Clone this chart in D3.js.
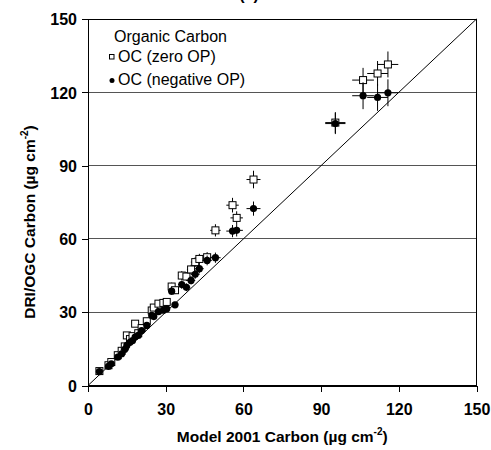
<!DOCTYPE html>
<html>
<head>
<meta charset="utf-8">
<script src="https://cdn.jsdelivr.net/npm/d3@7"></script>
<style>
  html, body { margin: 0; padding: 0; background: #fff; }
  svg { display: block; font-family: "Liberation Sans", Arial, sans-serif; }
</style>
</head>
<body>
<svg id="chart" width="491" height="450"></svg>
<script>
// Model 2001 carbon per sample (µg cm-2)
const modelCarbon = [4.4, 7.9, 9.0, 11.5, 13.0, 14.2, 15.0, 16.2, 17.2, 18.2, 19.4, 20.7, 22.7, 24.6, 25.4, 27.2, 29.1, 30.4, 32.3, 33.6, 36.2, 38.0, 39.8, 41.4, 43.0, 46.0, 49.2, 55.8, 57.4, 63.9, 95.5, 106.2, 111.8, 115.8];
const modelErr = [0.2, 0.3, 0.4, 0.5, 0.5, 0.6, 0.6, 0.6, 0.7, 0.7, 0.8, 0.8, 0.9, 1.0, 1.0, 1.1, 1.2, 1.2, 1.3, 1.3, 1.4, 1.5, 1.6, 1.7, 1.7, 1.8, 2.0, 2.4, 2.4, 2.7, 3.9, 4.2, 4.0, 4.0];

// DRI/OGC organic carbon, zero optical pyrolysis correction
const ocZeroOP = [5.9, 8.3, 9.6, 12.4, 14.2, 16.0, 20.5, 19.0, 20.2, 25.3, 21.4, 23.5, 26.3, 30.7, 31.9, 33.5, 33.8, 34.2, 40.5, 39.0, 45.0, 44.6, 47.5, 50.5, 51.8, 52.5, 63.5, 73.8, 68.6, 84.3, 107.6, 125.0, 127.7, 131.4];
const ocZeroErr = [0.2, 0.3, 0.4, 0.5, 0.6, 0.6, 0.8, 0.8, 0.8, 1.0, 0.9, 0.9, 1.1, 1.2, 1.3, 1.3, 1.4, 1.4, 1.6, 1.6, 1.8, 1.8, 1.9, 2.0, 2.1, 2.1, 2.5, 3.0, 2.7, 3.6, 4.3, 5.0, 5.1, 5.3];

// DRI/OGC organic carbon, negative optical pyrolysis correction
const ocNegOP = [5.7, 7.8, 8.9, 11.6, 13.0, 14.8, 16.4, 17.7, 18.4, 19.8, 20.5, 22.5, 24.6, 28.7, 28.2, 30.2, 30.8, 31.4, 38.6, 33.0, 41.3, 40.2, 43.0, 45.5, 47.8, 51.2, 52.3, 63.2, 63.5, 72.4, 107.2, 118.6, 117.9, 119.8];
const ocNegErr = [0.2, 0.3, 0.4, 0.5, 0.5, 0.6, 0.7, 0.7, 0.7, 0.8, 0.8, 0.9, 1.0, 1.1, 1.1, 1.2, 1.2, 1.3, 1.5, 1.3, 1.7, 1.6, 1.7, 1.8, 1.9, 2.0, 2.1, 2.5, 2.5, 2.9, 4.3, 5.5, 5.5, 5.5];

const tickValues = [0, 30, 60, 90, 120, 150];
const gridValues = [30, 60, 90, 120];
const legendTitle = "Organic Carbon";
const seriesNames = ["OC (zero OP)", "OC (negative OP)"];

const svg = d3.select("#chart");
const plotLeft = 88, plotRight = 476.5, plotTop = 19, plotBottom = 385.5;

const x = d3.scaleLinear().domain([0, 150]).range([plotLeft, plotRight]);
const y = d3.scaleLinear().domain([0, 150]).range([plotBottom, plotTop]);

// panel label, sitting mostly above the visible area
svg.append("text")
  .attr("x", 249).attr("y", 0)
  .attr("text-anchor", "middle")
  .attr("font-size", 16).attr("font-weight", "bold")
  .text("(a)");

// horizontal gridlines
svg.append("g").selectAll("line").data(gridValues).join("line")
  .attr("x1", plotLeft).attr("x2", plotRight)
  .attr("y1", d => y(d)).attr("y2", d => y(d))
  .attr("stroke", "#555").attr("stroke-width", 1)
  .attr("shape-rendering", "crispEdges");

// plot frame
svg.append("rect")
  .attr("x", plotLeft).attr("y", plotTop)
  .attr("width", plotRight - plotLeft).attr("height", plotBottom - plotTop)
  .attr("fill", "none").attr("stroke", "#000").attr("stroke-width", 1)
  .attr("shape-rendering", "crispEdges");

// 1:1 line
svg.append("line")
  .attr("x1", x(0)).attr("y1", y(0))
  .attr("x2", x(150)).attr("y2", y(150))
  .attr("stroke", "#000").attr("stroke-width", 1);

// axes
const xAxis = d3.axisBottom(x).tickValues(tickValues).tickSize(6).tickPadding(12);
const yAxis = d3.axisLeft(y).tickValues(tickValues).tickSize(6).tickPadding(5);

const gx = svg.append("g").attr("transform", `translate(0,${plotBottom})`).call(xAxis);
const gy = svg.append("g").attr("transform", `translate(${plotLeft},0)`).call(yAxis);
[gx, gy].forEach(g => {
  g.select(".domain").attr("stroke", "#000").attr("shape-rendering", "crispEdges");
  g.selectAll(".tick line").attr("stroke", "#000").attr("shape-rendering", "crispEdges");
  g.selectAll(".tick text")
    .attr("fill", "#000")
    .attr("font-size", 16).attr("font-weight", "bold")
    .attr("font-family", "'Liberation Sans', Arial, sans-serif");
});
gy.selectAll(".tick text").attr("dy", "0.36em");

// axis titles
const xt = svg.append("text")
  .attr("x", (plotLeft + plotRight) / 2).attr("y", 442)
  .attr("text-anchor", "middle")
  .attr("font-size", 15.5).attr("font-weight", "bold");
xt.append("tspan").text("Model 2001 Carbon (µg cm");
xt.append("tspan").attr("font-size", 10).attr("dy", -7).text("-2");
xt.append("tspan").attr("dy", 7).text(")");

const yt = svg.append("text")
  .attr("transform", `translate(35,222) rotate(-90)`)
  .attr("text-anchor", "middle")
  .attr("font-size", 15.5).attr("font-weight", "bold");
yt.append("tspan").text("DRI/OGC Carbon (µg cm");
yt.append("tspan").attr("font-size", 10).attr("dy", -7).text("-2");
yt.append("tspan").attr("dy", 7).text(")");

// error bars and markers for one series
function drawSeries(values, errs, kind) {
  const g = svg.append("g");
  const pts = modelCarbon.map((v, i) => ({ mx: v, mxe: modelErr[i], oy: values[i], oye: errs[i] }));
  g.selectAll("line.h").data(pts).join("line").attr("class", "h")
    .attr("x1", d => x(d.mx - d.mxe)).attr("x2", d => x(d.mx + d.mxe))
    .attr("y1", d => y(d.oy)).attr("y2", d => y(d.oy))
    .attr("stroke", "#000").attr("stroke-width", 1);
  g.selectAll("line.v").data(pts).join("line").attr("class", "v")
    .attr("x1", d => x(d.mx)).attr("x2", d => x(d.mx))
    .attr("y1", d => y(d.oy - d.oye)).attr("y2", d => y(d.oy + d.oye))
    .attr("stroke", "#000").attr("stroke-width", 1);
  if (kind === "square") {
    g.selectAll("rect").data(pts).join("rect")
      .attr("x", d => x(d.mx) - 3.5).attr("y", d => y(d.oy) - 3.5)
      .attr("width", 7).attr("height", 7)
      .attr("fill", "#fff").attr("stroke", "#000").attr("stroke-width", 1);
  } else {
    g.selectAll("circle").data(pts).join("circle")
      .attr("cx", d => x(d.mx)).attr("cy", d => y(d.oy)).attr("r", 3.6)
      .attr("fill", "#000");
  }
}
drawSeries(ocZeroOP, ocZeroErr, "square");
drawSeries(ocNegOP, ocNegErr, "circle");

// legend
const lg = svg.append("g").attr("font-size", 16);
lg.append("text").attr("x", 114).attr("y", 42).text(legendTitle);
lg.append("rect").attr("x", 109.5).attr("y", 54.5).attr("width", 4.5).attr("height", 4.5)
  .attr("fill", "#fff").attr("stroke", "#000").attr("stroke-width", 1);
lg.append("text").attr("x", 118).attr("y", 62).text(seriesNames[0]);
lg.append("circle").attr("cx", 112).attr("cy", 80.5).attr("r", 2.5).attr("fill", "#000");
lg.append("text").attr("x", 118).attr("y", 85).text(seriesNames[1]);
</script>
</body>
</html>
